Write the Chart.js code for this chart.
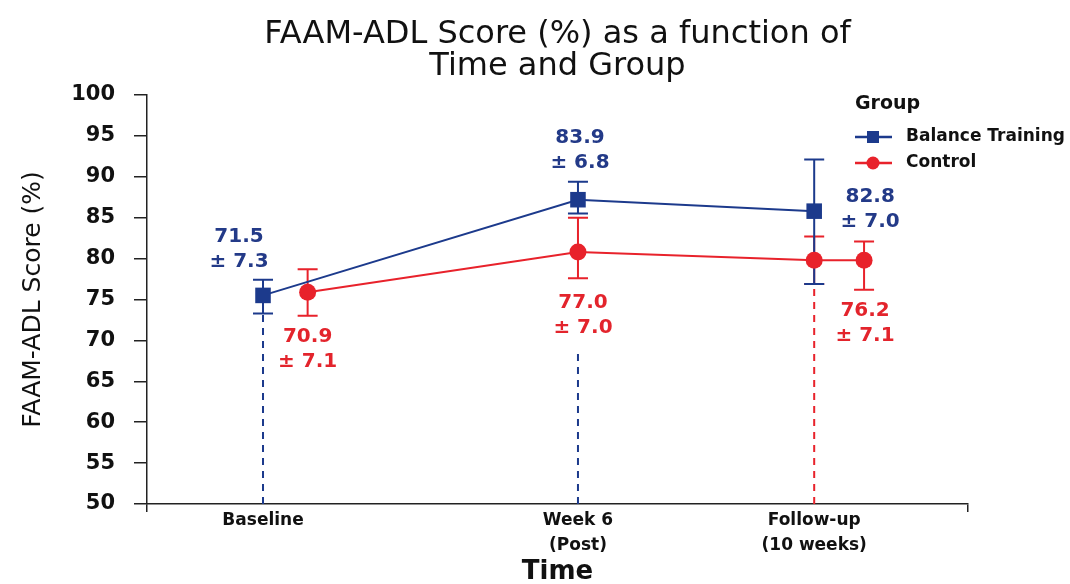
<!DOCTYPE html>
<html lang="en">
<head>
    <meta charset="UTF-8">
    <title>FAAM-ADL Score by Time and Group</title>
    <script src="https://cdn.jsdelivr.net/npm/chart.js"></script>
    <style>
        body {
            margin: 0;
            background: #ffffff;
        }

        #faamChart {
            display: block;
            background: #ffffff;
        }
    </style>
</head>
<body>
    <canvas id="faamChart" width="1070" height="584"></canvas>

    <script>
        // Time points and where they sit on the time axis
        const timeLabels = [['Baseline'], ['Week 6', '(Post)'], ['Follow-up', '(10 weeks)']];
        const timePos = [0, 6, 10.5];

        // Balance Training group
        const balanceX = [0, 6, 10.5];
        const balanceMean = [75.5, 87.2, 85.8];
        const balanceLow = [73.3, 85.5, 76.9];
        const balanceHigh = [77.4, 89.4, 92.1];
        const balanceText = [['71.5', '± 7.3'], ['83.9', '± 6.8'], ['82.8', '± 7.0']];

        // Control group
        const controlX = [0.85, 6, 10.5, 11.45];
        const controlMean = [75.9, 80.8, 79.8, 79.8];
        const controlLow = [73.0, 77.6, 76.9, 76.2];
        const controlHigh = [78.7, 85.0, 82.7, 82.1];
        const controlText = [['70.9', '± 7.1'], ['77.0', '± 7.0'], null, ['76.2', '± 7.1']];

        // dashed drop lines under each time point
        const dropTop = [73.3, 68.8, 76.9];
        const dropGroup = ['balance', 'balance', 'control'];

        const yMin = 50;
        const yMax = 100;
        const yStep = 5;

        const BLUE = '#1c3a8c';
        const RED = '#e8222b';
        const FONT = "'DejaVu Sans', sans-serif";

        Chart.defaults.font.family = FONT;
        Chart.defaults.color = '#111111';

        const toPoints = (xs, ys) => xs.map((x, i) => ({ x: x, y: ys[i] }));

        const dropSets = timePos.map((x, i) => ({
            label: 'drop' + i,
            data: [{ x: x, y: yMin }, { x: x, y: dropTop[i] }],
            borderColor: dropGroup[i] === 'balance' ? BLUE : RED,
            borderWidth: 2,
            borderDash: [7, 6],
            pointRadius: 0,
            order: 3
        }));

        // error bars drawn under the lines and markers
        const errorBars = {
            id: 'errorBars',
            beforeDatasetsDraw(chart) {
                const { ctx, scales: { x, y } } = chart;
                const cap = 10;
                const draw = (xs, lo, hi, color) => {
                    ctx.strokeStyle = color;
                    xs.forEach((v, i) => {
                        const px = x.getPixelForValue(v);
                        const top = y.getPixelForValue(hi[i]);
                        const bot = y.getPixelForValue(lo[i]);
                        ctx.beginPath();
                        ctx.moveTo(px, top);
                        ctx.lineTo(px, bot);
                        ctx.moveTo(px - cap, top);
                        ctx.lineTo(px + cap, top);
                        ctx.moveTo(px - cap, bot);
                        ctx.lineTo(px + cap, bot);
                        ctx.stroke();
                    });
                };
                ctx.save();
                ctx.lineWidth = 2;
                draw(controlX, controlLow, controlHigh, RED);
                draw(balanceX, balanceLow, balanceHigh, BLUE);
                ctx.restore();
            }
        };

        // mean ± SD labels and the group legend
        const labelOffsets = {
            balance: [[-24, -59], [2, -62], [56, -14]],
            control: [[0, 45], [5, 51], null, [1, 51]]
        };

        const annotations = {
            id: 'annotations',
            afterDraw(chart) {
                const { ctx, scales: { x, y } } = chart;
                ctx.save();
                ctx.font = 'bold 20px ' + FONT;
                ctx.textAlign = 'center';
                ctx.textBaseline = 'middle';

                const put = (xs, ys, texts, offs, color) => {
                    ctx.fillStyle = color;
                    texts.forEach((t, i) => {
                        if (!t) return;
                        const px = x.getPixelForValue(xs[i]) + offs[i][0];
                        const py = y.getPixelForValue(ys[i]) + offs[i][1];
                        t.forEach((line, k) => ctx.fillText(line, px, py + k * 25));
                    });
                };
                put(balanceX, balanceMean, balanceText, labelOffsets.balance, '#233a88');
                put(controlX, controlMean, controlText, labelOffsets.control, '#e3242c');

                // legend
                const ds = chart.data.datasets;
                ctx.textAlign = 'left';
                ctx.fillStyle = '#111111';
                ctx.font = 'bold 19px ' + FONT;
                ctx.fillText('Group', 855, 104);
                ctx.font = 'bold 17px ' + FONT;
                [ds[0], ds[1]].forEach((d, i) => {
                    const ly = 137 + i * 26;
                    ctx.strokeStyle = d.borderColor;
                    ctx.fillStyle = d.borderColor;
                    ctx.lineWidth = 2.5;
                    ctx.beginPath();
                    ctx.moveTo(855, ly);
                    ctx.lineTo(892, ly);
                    ctx.stroke();
                    ctx.beginPath();
                    if (d.pointStyle === 'rect') {
                        ctx.rect(867, ly - 6, 12, 12);
                    } else {
                        ctx.arc(873, ly, 6.5, 0, Math.PI * 2);
                    }
                    ctx.fill();
                    ctx.fillStyle = '#111111';
                    ctx.fillText(d.label, 906, ly);
                });
                ctx.restore();
            }
        };

        const chart = new Chart(document.getElementById('faamChart'), {
            type: 'line',
            data: {
                datasets: [
                    {
                        label: 'Balance Training',
                        data: toPoints(balanceX, balanceMean),
                        borderColor: BLUE,
                        backgroundColor: BLUE,
                        borderWidth: 2,
                        pointStyle: 'rect',
                        pointRadius: 11,
                        pointBorderWidth: 0,
                        order: 1
                    },
                    {
                        label: 'Control',
                        data: toPoints(controlX, controlMean),
                        borderColor: RED,
                        backgroundColor: RED,
                        borderWidth: 2,
                        pointStyle: 'circle',
                        pointRadius: 8.5,
                        pointBorderWidth: 0,
                        order: 2
                    },
                    ...dropSets
                ]
            },
            options: {
                responsive: false,
                animation: false,
                layout: {
                    padding: { left: 0, right: 102, top: 0, bottom: 0 }
                },
                plugins: {
                    legend: { display: false },
                    tooltip: { enabled: false },
                    title: {
                        display: true,
                        fullSize: false,
                        text: ['FAAM-ADL Score (%) as a function of', 'Time and Group'],
                        color: '#111111',
                        font: { size: 32, weight: 'normal', lineHeight: 1 },
                        padding: { top: 19, bottom: 12 }
                    }
                },
                scales: {
                    x: {
                        type: 'linear',
                        min: -2.21,
                        max: 13.43,
                        afterFit(scale) { scale.height = 80; },
                        afterBuildTicks(scale) {
                            scale.ticks = [scale.min, ...timePos, scale.max].map(v => ({ value: v }));
                        },
                        grid: {
                            drawOnChartArea: false,
                            tickLength: 8,
                            lineWidth: 1.5,
                            color: ctx => (ctx.index === 0 || ctx.index === timePos.length + 1) ? '#222222' : 'rgba(0,0,0,0)'
                        },
                        border: { color: '#222222', width: 1.5 },
                        ticks: {
                            padding: -4,
                            maxRotation: 0,
                            autoSkip: false,
                            font: { size: 17, weight: 'bold', lineHeight: 25 / 17 },
                            color: '#111111',
                            callback: value => {
                                const k = timePos.indexOf(value);
                                return k >= 0 ? timeLabels[k] : '';
                            }
                        },
                        title: {
                            display: true,
                            text: 'Time',
                            color: '#111111',
                            font: { size: 26, weight: 'bold', lineHeight: 1 },
                            padding: { top: 0, bottom: -1 }
                        }
                    },
                    y: {
                        min: yMin,
                        max: yMax,
                        afterFit(scale) { scale.width = 147; },
                        grid: {
                            drawOnChartArea: false,
                            tickLength: 13,
                            lineWidth: 1.5,
                            color: '#222222'
                        },
                        border: { color: '#222222', width: 1.5 },
                        ticks: {
                            stepSize: yStep,
                            padding: 19,
                            font: { size: 21, weight: 'bold' },
                            color: '#111111'
                        },
                        title: {
                            display: true,
                            text: 'FAAM-ADL Score (%)',
                            color: '#111111',
                            font: { size: 25, weight: 'normal', lineHeight: 1.2 },
                            padding: { top: 18, bottom: 0 }
                        }
                    }
                }
            },
            plugins: [errorBars, annotations]
        });
    </script>
</body>
</html>
